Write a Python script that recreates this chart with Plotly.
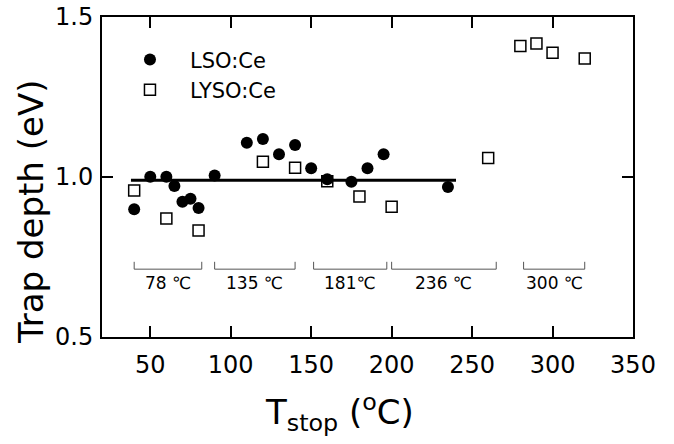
import plotly.graph_objects as go

# LSO:Ce (filled circles)
lso_t = [40, 50, 60, 65, 70, 75, 80, 90, 110, 120, 130, 140, 150, 160, 175, 185, 195, 235]
lso_e = [0.899, 1.001, 1.001, 0.972, 0.923, 0.932, 0.903, 1.005, 1.107, 1.119, 1.071, 1.100,
         1.027, 0.993, 0.985, 1.027, 1.071, 0.969]

# LYSO:Ce (open squares)
lyso_t = [40, 60, 80, 120, 140, 160, 180, 200, 260, 280, 290, 300, 320]
lyso_e = [0.958, 0.870, 0.833, 1.048, 1.029, 0.987, 0.939, 0.907, 1.059, 1.409, 1.417, 1.388, 1.370]

# mean trap depth line
fit_t = [38, 240]
fit_e = [0.99, 0.99]

# peak groups (bracket start, bracket end, label)
group_start = [40, 90, 151.5, 200, 282]
group_end = [82, 140, 197, 265, 320]
group_labels = ["78 ℃", "135 ℃", "181℃", "236 ℃", "300 ℃"]
bracket_top = 0.735
bracket_bottom = 0.712
label_y = 0.669

x_ticks = [50, 100, 150, 200, 250, 300, 350]
y_ticks = [0.5, 1.0, 1.5]

FONT = "DejaVu Sans"

fig = go.Figure()

fig.add_trace(go.Scatter(
    x=lyso_t, y=lyso_e, mode="markers", name="LYSO:Ce", legendrank=2,
    marker=dict(symbol="square", size=11, color="white", line=dict(color="black", width=1.5)),
))

fig.add_trace(go.Scatter(
    x=fit_t, y=fit_e, mode="lines", showlegend=False,
    line=dict(color="black", width=3),
))

fig.add_trace(go.Scatter(
    x=lso_t, y=lso_e, mode="markers", name="LSO:Ce", legendrank=1,
    marker=dict(symbol="circle", size=12, color="black"),
))

# brackets
bx, by = [], []
for s, e in zip(group_start, group_end):
    bx += [s, s, e, e, None]
    by += [bracket_top, bracket_bottom, bracket_bottom, bracket_top, None]
fig.add_trace(go.Scatter(
    x=bx, y=by, mode="lines", showlegend=False,
    line=dict(color="#555555", width=1),
))

for s, e, lab in zip(group_start, group_end, group_labels):
    fig.add_annotation(x=(s + e) / 2, y=label_y, text=lab, showarrow=False,
                       xanchor="center", yanchor="middle",
                       font=dict(family=FONT, size=17, color="black"))

# axis titles as annotations
fig.add_annotation(xref="paper", yref="paper", x=-0.134, y=0.39, text="Trap depth (eV)",
                   textangle=-90, showarrow=False, xanchor="center", yanchor="middle",
                   font=dict(family=FONT, size=34, color="black"))
fig.add_annotation(xref="paper", yref="paper", x=0.447, y=-0.235,
                   text="T<sub>stop</sub> (<sup>o</sup>C)", showarrow=False,
                   xanchor="center", yanchor="middle",
                   font=dict(family=FONT, size=34, color="black"))

axis_common = dict(
    showline=True, linecolor="black", linewidth=2, mirror="allticks",
    ticks="inside", tickcolor="black", tickwidth=2, ticklen=11,
    showgrid=False, zeroline=False, automargin=False,
    tickfont=dict(family=FONT, size=24, color="black"),
)

fig.update_xaxes(range=[20, 350], tickvals=x_ticks, ticklabelstandoff=5,
                 ticklabeloverflow="allow", **axis_common)
fig.update_yaxes(range=[0.5, 1.5], tickvals=y_ticks, tickformat=".1f",
                 ticklabelstandoff=2, ticklabeloverflow="allow", **axis_common)

fig.update_layout(
    width=674, height=444,
    margin=dict(l=102, r=41, t=17, b=107),
    plot_bgcolor="white", paper_bgcolor="white",
    showlegend=True,
    legend=dict(x=0.015, y=0.93, xanchor="left", yanchor="top",
                bgcolor="rgba(0,0,0,0)", itemwidth=70,
                font=dict(family=FONT, size=21, color="black")),
)

# remove the page's default 8px body margin so the figure fills the window
fig.write_html("out.html", config={"displayModeBar": False},
               post_script="document.body.style.margin='0';")
